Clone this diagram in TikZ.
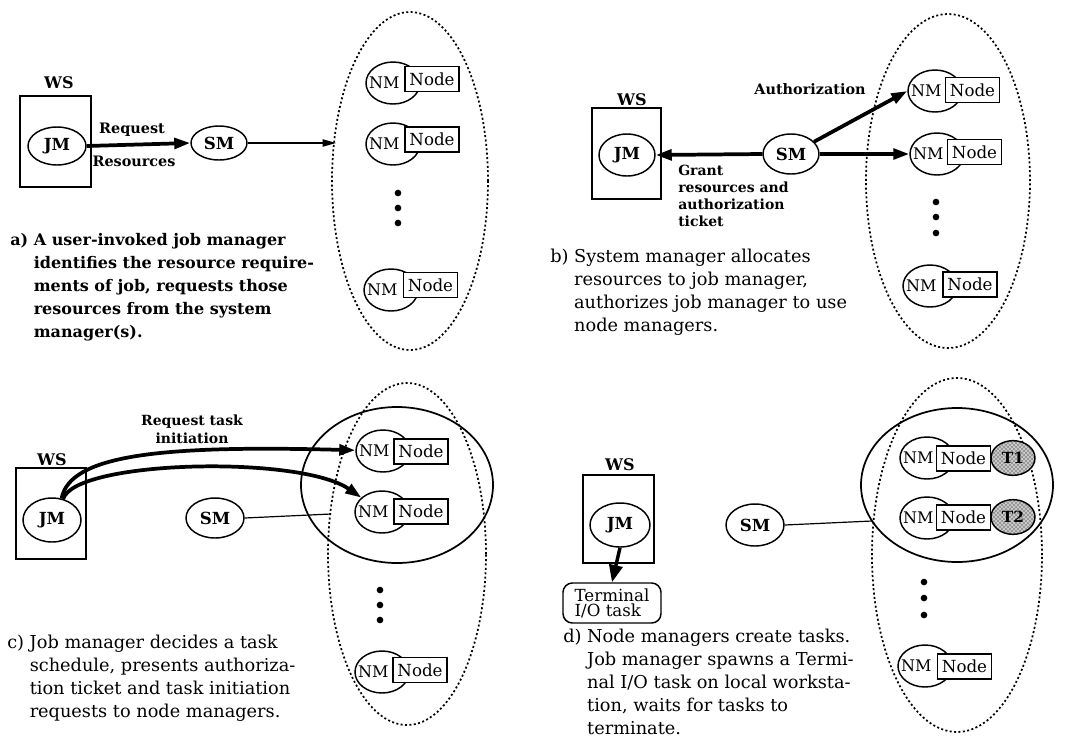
\documentclass[tikz,border=0pt]{standalone}
\usepackage{fontspec}
\setmainfont{DejaVu Serif}
\usetikzlibrary{shapes.geometric,arrows.meta,patterns}
\newcommand\nmgrp[5]{%
  \node[nmell] (#1) at (#2,#3) {};
  \node[nmtxt] (#1t) at ([xshift=-6.5pt]#1.center) {NM};
  \node[nodebox] (#1b) at (#4,#5) {Node};}
\begin{document}
\begin{tikzpicture}[x=0.75pt,y=-0.75pt,
  ell/.style={draw, ellipse, line width=1.1pt, inner sep=0pt, fill=white},
  nmell/.style={ell, minimum width=40.5pt, minimum height=31.5pt},
  nmtxt/.style={inner sep=0pt, font=\fontsize{12}{12}\selectfont},
  nodebox/.style={draw, fill=white, line width=1.1pt, minimum width=40.5pt, minimum height=18.5pt, inner sep=0pt, font=\fontsize{12.5}{12.5}\selectfont},
  mgr/.style={ell, font=\bfseries\fontsize{12.5}{12.5}\selectfont},
  wsbox/.style={draw, line width=1.1pt, inner sep=0pt},
  wslbl/.style={inner sep=0pt, anchor=base, font=\bfseries\fontsize{12}{12}\selectfont},
  lbl/.style={inner sep=0pt, anchor=base, font=\bfseries\fontsize{10.8}{10.8}\selectfont},
  capa/.style={inner sep=0pt, anchor=base west, font=\bfseries\fontsize{12}{17.25}\selectfont},
  captxt/.style={inner sep=0pt, anchor=base west, font=\fontsize{13.3}{17.25}\selectfont},
  cluster/.style={draw, ellipse, inner sep=0pt, line width=1.3pt, dash pattern=on 1.5pt off 1.8pt},
  ring/.style={draw, ellipse, inner sep=0pt, line width=1.3pt},
  fatarrow/.style={line width=2.8pt, -{Triangle[length=12pt,width=8pt]}},
  thinarrow/.style={line width=0.9pt, -{Triangle[length=10pt,width=5.5pt]}},
  tcirc/.style={draw, ellipse, line width=1.1pt, minimum width=33pt, minimum height=26pt, inner sep=0pt,
    preaction={fill=black!22}, pattern=crosshatch dots, pattern color=black, font=\bfseries\fontsize{11.5}{11.5}\selectfont},
  dotmark/.style={circle, fill, inner sep=0pt, minimum size=5pt}
]
\useasboundingbox (0,0) rectangle (1065,751);

% ---------------- panel a ----------------
\node[cluster, minimum width=117pt, minimum height=253.5pt] (clA) at (410,181) {};
\node[wsbox, minimum width=53.25pt, minimum height=68.25pt] (wsA) at (55.5,141.5) {};
\node[wslbl] (wsAl) at (59,88) {WS};
\node[mgr, minimum width=43.5pt, minimum height=28.5pt] (jmA) at (57,146) {JM};
\node[mgr, minimum width=42pt, minimum height=25.5pt] (smA) at (219,143) {SM};
\draw[fatarrow] (jmA.east) -- (smA.west);
\node[lbl] (reqA) at (132,133) {Request};
\node[lbl] (resA) at (134,166) {Resources};
\coordinate (hitA) at (336,143);
\draw[thinarrow] (smA.east) -- (hitA);
\nmgrp{a1}{393}{83}{432}{79}
\nmgrp{a2}{393}{144}{432}{139.5}
\nmgrp{a3}{391}{290}{430.5}{285}
\node[dotmark] (da1) at (398,193) {};
\node[dotmark] (da2) at (398,208) {};
\node[dotmark] (da3) at (398,223) {};
\node[capa] (capA) at (10,245) {\begin{tabular}[t]{@{}l@{\ }l@{}}
a) & A user-invoked job manager\\
   & identifies the resource require-\\
   & ments of job, requests those\\
   & resources from the system\\
   & manager(s).\end{tabular}};

% ---------------- panel b ----------------
\node[cluster, minimum width=123pt, minimum height=250.5pt] (clB) at (948,181) {};
\node[wsbox, minimum width=51.75pt, minimum height=68.25pt] (wsB) at (626.5,153.5) {};
\node[wslbl] (wsBl) at (632,105) {WS};
\node[mgr, minimum width=42pt, minimum height=31.5pt] (jmB) at (627,155) {JM};
\node[mgr, minimum width=42pt, minimum height=30pt] (smB) at (791,154) {SM};
\draw[fatarrow] (smB.west) -- (jmB.east);
\nmgrp{b1}{935}{91}{972.5}{90}
\nmgrp{b2}{937}{154}{974.5}{152}
\nmgrp{b3}{930}{286}{970}{284.5}
\draw[fatarrow] (smB.28) -- (b1.west);
\draw[fatarrow] (smB.east) -- (b2.west);
\node[lbl] (authB) at (810,94) {Authorization};
\node[inner sep=0pt, anchor=base west, font=\bfseries\fontsize{10.5}{12.75}\selectfont] (grantB) at (678,175)
  {\begin{tabular}[t]{@{}l@{}}Grant\\resources and\\authorization\\ticket\end{tabular}};
\node[dotmark] (db1) at (936,202) {};
\node[dotmark] (db2) at (936,217) {};
\node[dotmark] (db3) at (936,233) {};
\node[captxt] (capB) at (550,262) {\begin{tabular}[t]{@{}l@{\ }l@{}}
b) & System manager allocates\\
   & resources to job manager,\\
   & authorizes job manager to use\\
   & node managers.\end{tabular}};

% ---------------- panel c ----------------
\node[cluster, minimum width=118.5pt, minimum height=256.5pt] (clC) at (407,554) {};
\node[ring, minimum width=144pt, minimum height=117pt] (rgC) at (397,485) {};
\node[wsbox, minimum width=52.5pt, minimum height=68.25pt] (wsC) at (51,513.5) {};
\node[wslbl] (wsCl) at (52,465) {WS};
\node[mgr, minimum width=43.5pt, minimum height=33pt] (jmC) at (52,520) {JM};
\node[mgr, minimum width=43.5pt, minimum height=30pt] (smC) at (215,518) {SM};
\coordinate (hitC) at (331,514);
\draw[line width=0.9pt] (smC.east) -- (hitC);
\nmgrp{c1}{383}{451}{421}{451.5}
\nmgrp{c2}{382}{512}{421}{511.5}
\nmgrp{c3}{382}{672}{420}{670}
\draw[fatarrow] (jmC.66) .. controls (70,455) and (160,445) .. (c1);
\draw[fatarrow] (jmC.62) .. controls (75,460) and (300,455) .. (c2);
\node[inner sep=0pt, anchor=base, font=\bfseries\fontsize{10.5}{13.5}\selectfont] (reqC) at (192,425)
  {\begin{tabular}[t]{@{}c@{}}Request task\\initiation\end{tabular}};
\node[dotmark] (dc1) at (380,590) {};
\node[dotmark] (dc2) at (380,605) {};
\node[dotmark] (dc3) at (380,620) {};
\node[captxt] (capC) at (7,648) {\begin{tabular}[t]{@{}l@{\ }l@{}}
c) & Job manager decides a task\\
   & schedule, presents authoriza-\\
   & tion ticket and task initiation\\
   & requests to node managers.\end{tabular}};

% ---------------- panel d ----------------
\node[cluster, minimum width=127.5pt, minimum height=265.5pt] (clD) at (957,555) {};
\node[ring, minimum width=144pt, minimum height=115.5pt] (rgD) at (957,485) {};
\node[wsbox, minimum width=53.25pt, minimum height=66pt] (wsD) at (618.5,519) {};
\node[wslbl] (wsDl) at (620,470) {WS};
\node[mgr, minimum width=45pt, minimum height=33pt] (jmD) at (620,525) {JM};
\node[draw, rounded corners=7pt, line width=1.1pt, minimum width=73.5pt, minimum height=30pt, inner sep=0pt,
  align=left, font=\fontsize{12.5}{11.25}\selectfont] (termD) at (612,603) {Terminal\\I/O task};
\draw[line width=2.6pt, -{Triangle[length=13pt,width=10pt]}] (jmD.south) -- (termD.north);
\node[mgr, minimum width=43.5pt, minimum height=31.5pt] (smD) at (755,525) {SM};
\coordinate (hitD) at (872,521);
\draw[line width=0.9pt] (smD.east) -- (hitD);
\node[tcirc] (t1) at (1013,458) {T1};
\node[tcirc] (t2) at (1013,517) {T2};
\nmgrp{d1}{927}{458}{963.5}{458.5}
\nmgrp{d2}{927}{518}{963.5}{517.5}
\nmgrp{d3}{925}{666}{964.5}{666.5}
\node[dotmark] (dd1) at (924,582) {};
\node[dotmark] (dd2) at (924,598) {};
\node[dotmark] (dd3) at (924,615) {};
\node[captxt] (capD) at (563,642) {\begin{tabular}[t]{@{}l@{\ }l@{}}
d) & Node managers create tasks.\\
   & Job manager spawns a Termi-\\
   & nal I/O task on local worksta-\\
   & tion, waits for tasks to\\
   & terminate.\end{tabular}};
\end{tikzpicture}
\end{document}
